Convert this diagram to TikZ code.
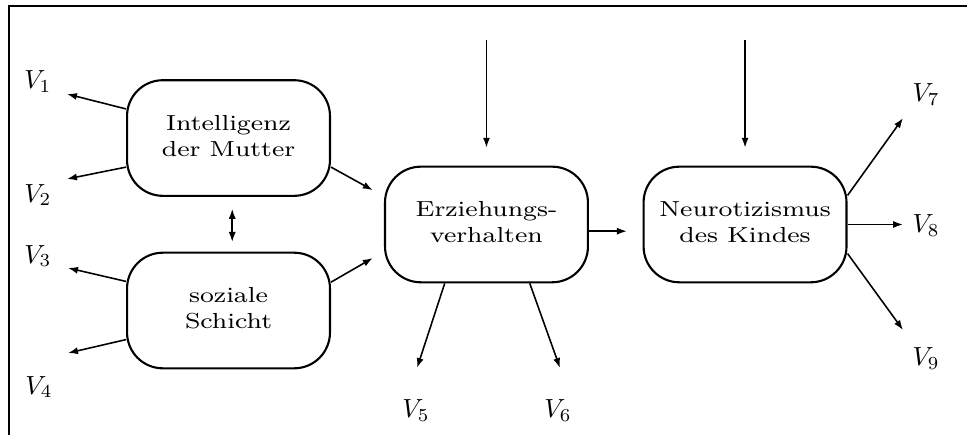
\documentclass[tikz,border=0pt]{standalone}
\usepackage{graphicx}
\usetikzlibrary{arrows.meta}

\newcommand{\boxtext}[1]{\scalebox{1.2}[1]{\fontsize{8.3}{10}\selectfont\begin{tabular}{@{}c@{}}#1\end{tabular}}}

\begin{document}
\begin{tikzpicture}[
  box/.style={draw,line width=0.8pt,rounded corners=0.48cm,minimum width=2.72cm,minimum height=1.55cm,inner sep=0pt},
  var/.style={inner sep=0pt},
  >={Latex[length=3.8pt,width=2.7pt]},
  line width=0.6pt]

\useasboundingbox (0,0) rectangle (12.962,-5.831);
\draw[line width=0.8pt] (12.962,-0.08) -- (0.121,-0.08) -- (0.121,-5.831);

% the four latent variables
\node[box] (A) at (3.063,-1.850) {\boxtext{Intelligenz\\der Mutter}};
\node[box] (B) at (3.063,-4.162) {\boxtext{soziale\\Schicht}};
\node[box] (C) at (6.521,-3.009) {\boxtext{Erziehungs-\\verhalten}};
\node[box] (D) at (9.987,-3.009) {\boxtext{Neurotizismus\\des Kindes}};

% indicators
\node[var] (V1) at (0.509,-1.099) {$V_1$};
\node[var] (V2) at (0.509,-2.614) {$V_2$};
\node[var] (V3) at (0.509,-3.432) {$V_3$};
\node[var] (V4) at (0.523,-5.188) {$V_4$};
\node[var] (V5) at (5.576,-5.509) {$V_5$};
\node[var] (V6) at (7.480,-5.509) {$V_6$};
\node[var] (V7) at (12.413,-1.273) {$V_7$};
\node[var] (V8) at (12.413,-3.029) {$V_8$};
\node[var] (V9) at (12.413,-4.812) {$V_9$};

\coordinate (t1) at (0.898,-1.260);
\coordinate (t2) at (0.898,-2.399);
\coordinate (t3) at (0.912,-3.592);
\coordinate (t4) at (0.912,-4.732);
\coordinate (t5) at (5.590,-4.933);
\coordinate (t6) at (7.507,-4.933);
\coordinate (t7) at (12.105,-1.582);
\coordinate (t8) at (12.105,-3.009);
\coordinate (t9) at (12.105,-4.424);
\coordinate (eC) at ([yshift=16.9mm]C.north);
\coordinate (eD) at ([yshift=16.9mm]D.north);

\draw[->] ([yshift=3.9mm]A.west) -- (t1);
\draw[->] ([yshift=-3.9mm]A.west) -- (t2);
\draw[->] ([yshift=3.9mm]B.west) -- (t3);
\draw[->] ([yshift=-3.9mm]B.west) -- (t4);
\draw[<->] ([xshift=0.5mm,yshift=-1.6mm]A.south) -- ([xshift=0.5mm,yshift=1.3mm]B.north);

\draw[->] ([yshift=-3.9mm]A.east) -- ([xshift=-1.5mm,yshift=4.6mm]C.west);
\draw[->] ([yshift=3.8mm]B.east) -- ([xshift=-1.5mm,yshift=-4.5mm]C.west);
\draw[->] (eC) -- ([yshift=2.4mm]C.north);
\draw[->] ([xshift=-5.6mm]C.south) -- (t5);
\draw[->] ([xshift=5.8mm]C.south) -- (t6);

\draw[->] ([yshift=-0.9mm]C.east) -- ([xshift=-2.1mm,yshift=-0.9mm]D.west);
\draw[->] (eD) -- ([yshift=2.4mm]D.north);
\draw[->] ([yshift=3.9mm]D.east) -- (t7);
\draw[->] (D.east) -- (t8);
\draw[->] ([yshift=-3.9mm]D.east) -- (t9);
\end{tikzpicture}
\end{document}
